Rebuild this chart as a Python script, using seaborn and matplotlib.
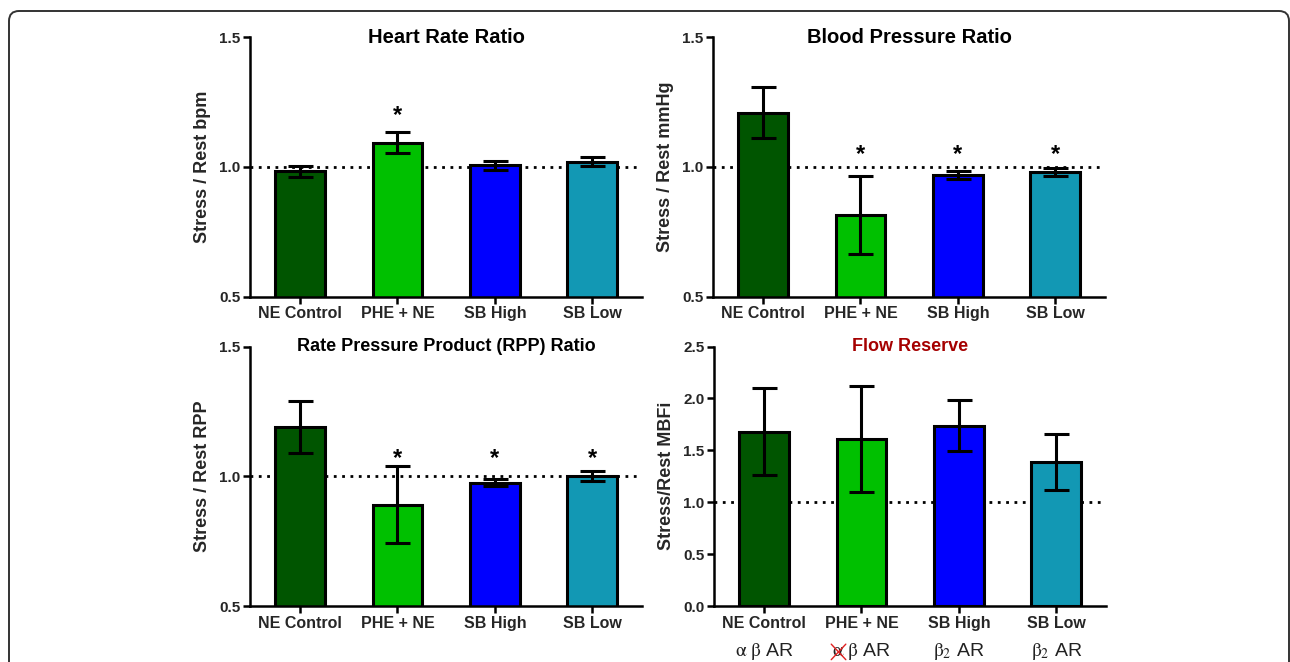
import numpy as np
import pandas as pd
import matplotlib
matplotlib.use("Agg")
import matplotlib.pyplot as plt
import seaborn as sns
from matplotlib.patches import FancyBboxPatch
from matplotlib.transforms import IdentityTransform, blended_transform_factory

# ---------------- data ----------------
groups = ["NE Control", "PHE + NE", "SB High", "SB Low"]
receptor_labels = [r"$\mathrm{\alpha\ \beta}$ AR", r"$\mathrm{\alpha\ \beta}$ AR",
                   r"$\mathrm{\beta}_2$ AR", r"$\mathrm{\beta}_2$ AR"]

hr_mean = [0.983, 1.094, 1.006, 1.021]
hr_sem = [0.022, 0.039, 0.019, 0.019]
hr_sig = [False, True, False, False]

bp_mean = [1.210, 0.815, 0.969, 0.981]
bp_sem = [0.097, 0.150, 0.016, 0.017]
bp_sig = [False, True, True, True]

rpp_mean = [1.190, 0.891, 0.976, 1.000]
rpp_sem = [0.101, 0.149, 0.013, 0.019]
rpp_sig = [False, True, True, True]

fr_mean = [1.681, 1.607, 1.739, 1.386]
fr_sem = [0.421, 0.512, 0.248, 0.269]
fr_sig = [False, False, False, False]

colors = ["#005500", "#00C000", "#0000FF", "#1298B4"]

# ---------------- style ----------------
sns.set_theme(style="ticks")
plt.rcParams["font.family"] = ["Liberation Sans", "DejaVu Sans"]
plt.rcParams["mathtext.fontset"] = "stix"

fig = plt.figure(figsize=(12.9, 6.62), dpi=100)

W, H = 1290.0, 662.0
pos = {
    "hr": [250 / W, 1 - 296.7 / H, 392 / W, 259.4 / H],
    "bp": [713 / W, 1 - 296.7 / H, 392 / W, 259.4 / H],
    "rpp": [250 / W, 1 - 606 / H, 392 / W, 259.4 / H],
    "fr": [714 / W, 1 - 606 / H, 392 / W, 259.4 / H],
}


def panel(key, means, sems, sig, title, ylabel, ylim, yticks, star_y,
          title_color="black", title_size=14.5):
    ax = fig.add_axes(pos[key])
    df = pd.DataFrame({"group": groups, "value": means})
    ax.axhline(1.0, color="black", linestyle=(0, (1, 2.0)), linewidth=2.0, zorder=0.5)
    sns.barplot(data=df, x="group", y="value", hue="group", palette=colors,
                order=groups, hue_order=groups, legend=False, errorbar=None,
                saturation=1, width=0.51, edgecolor="black", linewidth=2.2,
                ax=ax, zorder=2)
    ax.errorbar(np.arange(len(groups)), means, yerr=sems, fmt="none",
                ecolor="black", elinewidth=2.2, capsize=9, capthick=2.2, zorder=3)
    for i, s in enumerate(sig):
        if s:
            ax.text(i, star_y, "*", ha="center", va="center", fontsize=17,
                    fontweight="bold", color="black")
    ax.set_xlim(-0.513, 3.51)
    ax.set_ylim(*ylim)
    ax.set_yticks(yticks)
    ax.set_yticklabels([f"{t:.1f}" for t in yticks], fontsize=11, fontweight="bold")
    ax.set_xticks(range(len(groups)))
    ax.set_xticklabels(groups, fontsize=11.5, fontweight="bold")
    ax.set_xlabel("")
    ax.set_ylabel(ylabel, fontsize=13, fontweight="bold", labelpad=6)
    ax.text(0.5, 1.0, title, transform=ax.transAxes, ha="center", va="center",
            fontsize=title_size, fontweight="bold", color=title_color)
    for sp in ["top", "right"]:
        ax.spines[sp].set_visible(False)
    for sp in ["left", "bottom"]:
        ax.spines[sp].set_linewidth(1.8)
        ax.spines[sp].set_color("black")
    ax.tick_params(axis="both", length=5, width=1.8, color="black", pad=2)
    ax.set_facecolor("white")
    return ax


ax1 = panel("hr", hr_mean, hr_sem, hr_sig, "Heart Rate Ratio", "Stress / Rest bpm",
            (0.5, 1.5), [0.5, 1.0, 1.5], 1.2)
ax2 = panel("bp", bp_mean, bp_sem, bp_sig, "Blood Pressure Ratio", "Stress / Rest mmHg",
            (0.5, 1.5), [0.5, 1.0, 1.5], 1.05)
ax3 = panel("rpp", rpp_mean, rpp_sem, rpp_sig, "Rate Pressure Product (RPP) Ratio",
            "Stress / Rest RPP", (0.5, 1.5), [0.5, 1.0, 1.5], 1.068, title_size=13)
ax4 = panel("fr", fr_mean, fr_sem, fr_sig, "Flow Reserve", "Stress/Rest MBFi",
            (0.0, 2.5), [0.0, 0.5, 1.0, 1.5, 2.0, 2.5], 2.6,
            title_color="#A50000", title_size=13)

# receptor labels beneath the flow reserve panel
tr = blended_transform_factory(ax4.transData, ax4.transAxes)
for i, lab in enumerate(receptor_labels):
    ax4.text(i, -0.177, lab, transform=tr, ha="center", va="center", fontsize=14,
             color="#222222")
# thin red cross struck over the alpha of the PHE + NE receptor label
cx, cy, dx, dy = 1 - 0.235, -0.177, 0.075, 0.030
ax4.plot([cx - dx, cx + dx], [cy + dy, cy - dy], transform=tr, color="#E02020",
         linewidth=1.0, clip_on=False, zorder=5)
ax4.plot([cx - dx, cx + dx], [cy - dy, cy + dy], transform=tr, color="#E02020",
         linewidth=1.0, clip_on=False, zorder=5)

# rounded outer frame
frame = FancyBboxPatch((9, -40), 1280, 651 + 40, boxstyle="round,pad=0,rounding_size=10",
                       transform=IdentityTransform(), facecolor="none",
                       edgecolor="#333333", linewidth=1.4, clip_on=False)
fig.patches.append(frame)

fig.savefig("out.png", dpi=100, facecolor="white")
